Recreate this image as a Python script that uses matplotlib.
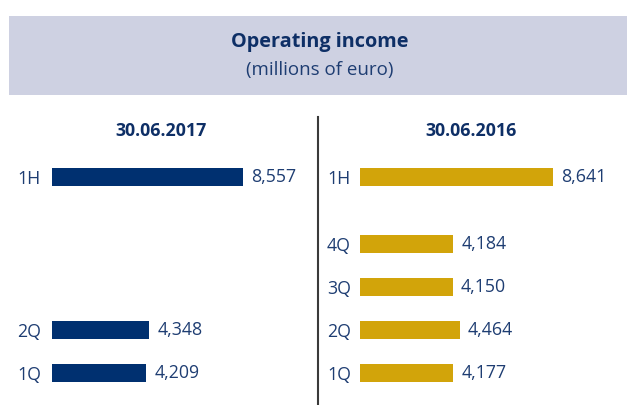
import matplotlib.pyplot as plt
from matplotlib.patches import Rectangle
from matplotlib.lines import Line2D

plt.rcParams['font.family'] = ['Open Sans', 'DejaVu Sans']

# data
labels_2017 = ["1H", "2Q", "1Q"]
values_2017 = [8557, 4348, 4209]
labels_2016 = ["1H", "4Q", "3Q", "2Q", "1Q"]
values_2016 = [8641, 4184, 4150, 4464, 4177]
row_pos = {"1H": 4.55, "4Q": 3, "3Q": 2, "2Q": 1, "1Q": 0}

NAVY = "#003070"
GOLD = "#D2A40A"
TEXT = "#1E3D72"
BOX = "#CED1E2"

W, H = 627, 405
fig = plt.figure(figsize=(W / 100, H / 100), dpi=100)

# header box
fig.patches.append(Rectangle((9 / W, 1 - 95 / H), 618 / W, 79 / H,
                             transform=fig.transFigure, facecolor=BOX,
                             edgecolor="none"))
fig.text(319.5 / W, 1 - 42 / H, "Operating income", ha="center", va="center",
         fontsize=14.3, fontweight="bold", color="#0E2F66")
fig.text(319.5 / W, 1 - 70 / H, "(millions of euro)", ha="center", va="center",
         fontsize=13.5, color=TEXT)

# divider
fig.add_artist(Line2D([318 / W, 318 / W], [1 - 117 / H, 0], transform=fig.transFigure,
                      color="#3a3a3a", linewidth=1.5))

px_per_unit = 191 / 8557
ax_w = 250
top_px, bot_px = 150, 395
ylo = (373 - bot_px) / 43
yhi = (373 - top_px) / 43


def panel(x0, labels, values, color, title, title_x, pad):
    ax = fig.add_axes([x0 / W, 1 - bot_px / H, ax_w / W, (bot_px - top_px) / H])
    ys = [row_pos[l] for l in labels]
    bars = ax.barh(ys, values, height=0.42, color=color)
    ax.bar_label(bars, labels=[f"{v:,}" for v in values], padding=6,
                 fontsize=12.8, color=TEXT)
    ax.set_yticks(ys)
    ax.set_yticklabels(labels, fontsize=12.8, color=TEXT)
    ax.tick_params(axis="y", length=0, pad=pad)
    ax.set_xticks([])
    ax.set_xlim(0, ax_w / px_per_unit)
    ax.set_ylim(ylo, yhi)
    for s in ax.spines.values():
        s.set_visible(False)
    ax.patch.set_alpha(0)
    fig.text(title_x / W, 1 - 131 / H, title, ha="center", va="center",
             fontsize=12.8, fontweight="bold", color="#0E2F66")


panel(52, labels_2017, values_2017, NAVY, "30.06.2017", 161, 8)
panel(360, labels_2016, values_2016, GOLD, "30.06.2016", 471, 6.5)

fig.savefig("out.png", dpi=100)
